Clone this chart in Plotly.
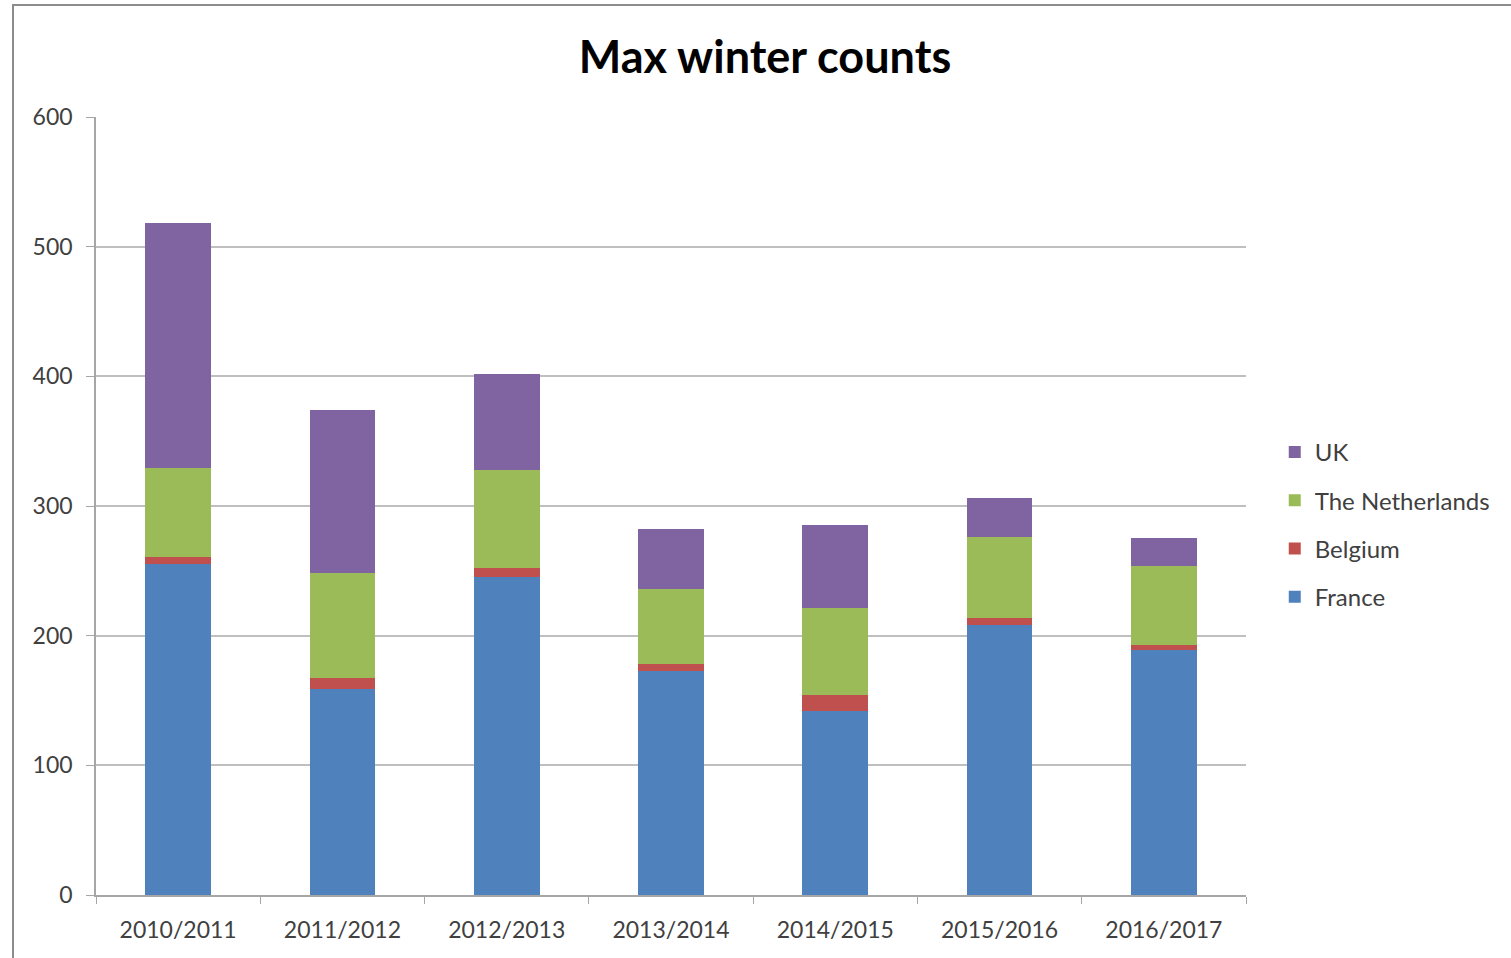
import plotly.graph_objects as go

seasons = ["2010/2011", "2011/2012", "2012/2013", "2013/2014", "2014/2015", "2015/2016", "2016/2017"]
france = [255, 159, 245, 173, 142, 208, 189]
belgium = [6, 8, 7, 5, 12, 6, 4]
netherlands = [68, 81, 76, 58, 67, 62, 61]
uk = [189, 126, 74, 46, 64, 30, 21]

series = [
    ("France", france, "#4F81BD", 4),
    ("Belgium", belgium, "#C0504D", 3),
    ("The Netherlands", netherlands, "#9BBB59", 2),
    ("UK", uk, "#8064A2", 1),
]

fig = go.Figure()
for name, vals, color, rank in series:
    fig.add_trace(go.Bar(x=seasons, y=vals, name=name, legendgroup=name, legendrank=rank,
                         marker=dict(color=color, line=dict(width=0))))

font_family = "Lato, Carlito, 'Open Sans', sans-serif"
fig.update_layout(
    barmode="stack",
    bargap=0.6,
    width=1511, height=958,
    margin=dict(l=96, r=265, t=117, b=63),
    paper_bgcolor="white", plot_bgcolor="white",
    font=dict(family=font_family, size=22, color="#404040"),
    title=dict(text="<b>Max winter counts</b>", x=765 / 1511, xref="container", y=1 - 57 / 958,
               yref="container", xanchor="center", yanchor="middle",
               font=dict(size=45, color="#000000", family=font_family)),
    legend=dict(traceorder="grouped", x=1.025, xanchor="left", y=(895 - 524.5) / 778, yanchor="middle",
                font=dict(size=24, color="#404040"), itemsizing="constant", tracegroupgap=14,
                itemwidth=30, bgcolor="rgba(0,0,0,0)"),
    showlegend=True,
)
fig.update_yaxes(range=[0, 600], dtick=100, showgrid=True, gridcolor="#BFBFBF", gridwidth=1.5,
                 showline=True, linecolor="#A6A6A6", linewidth=1.5, ticks="outside", ticklen=8,
                 tickcolor="#A6A6A6", tickfont=dict(size=23, color="#404040"), zeroline=False,
                 ticklabelstandoff=9)
fig.update_xaxes(showline=True, linecolor="#A6A6A6", linewidth=1.5, ticks="outside", ticklen=7,
                 tickcolor="#A6A6A6", tickson="boundaries", tickfont=dict(size=23, color="#404040"),
                 ticklabelstandoff=14)

fig.add_shape(type="rect", xref="paper", yref="paper", x0=(13 - 96) / 1150, x1=1.4,
              y0=-0.3, y1=(895 - 5) / 778, line=dict(color="#8C8C8C", width=2), layer="below")

fig.write_html("out.html", config={"displayModeBar": False},
               post_script="document.body.style.margin='0px';")
